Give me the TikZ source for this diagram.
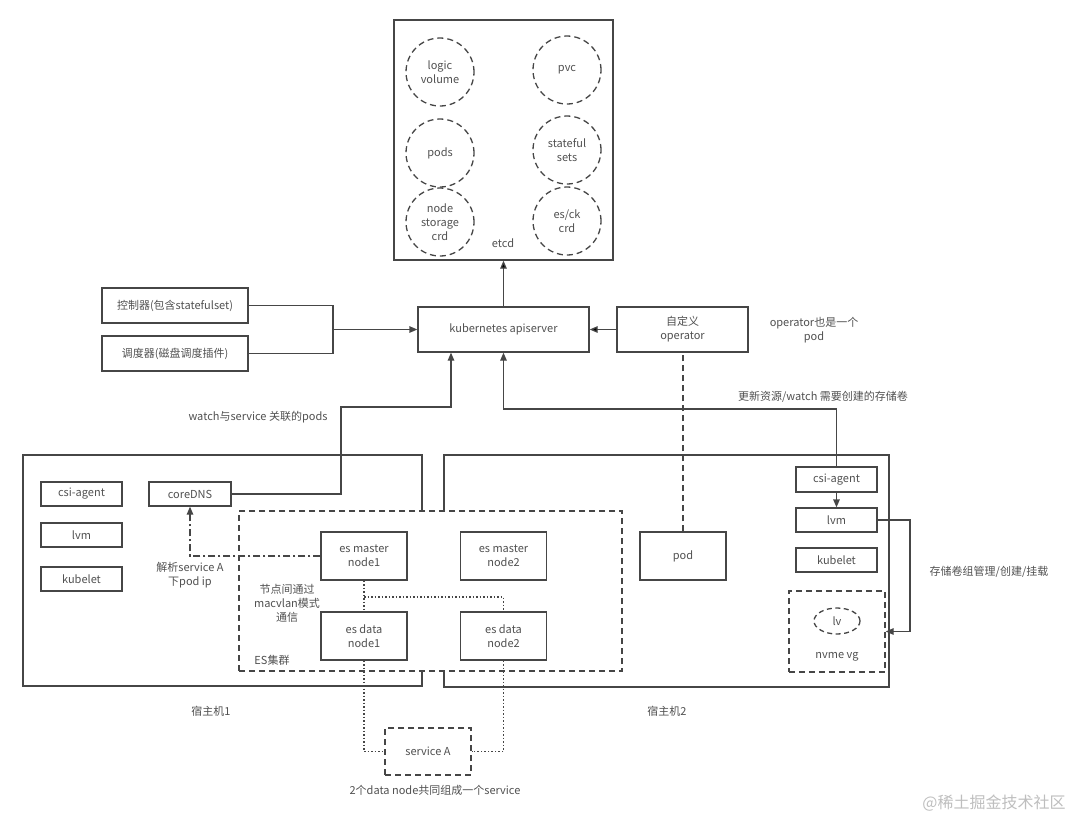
\documentclass[tikz,border=0pt]{standalone}
\usepackage{fontspec}
\setmainfont{Noto Sans CJK SC}
\usetikzlibrary{shapes.geometric}
\usetikzlibrary{positioning}
\usetikzlibrary{arrows.meta}

\begin{document}
\begin{tikzpicture}[x=1pt,y=-1pt,>={Triangle[length=8pt,width=6.5pt]},
	every node/.style={font=\fontsize{11}{14}\selectfont,text=txt,align=center},
	main box/.style={rectangle,draw=ln,line width=1.3pt,inner sep=0pt},
	dash box/.style={main box,dash pattern=on 6pt off 4pt},
	dash circle/.style={circle,draw=ln,line width=1.3pt,dash pattern=on 6pt off 4pt,
		minimum size=68pt,inner sep=0pt},
	link/.style={draw=ln,line width=1.3pt}]
	
	\definecolor{ln}{RGB}{70,70,70}
	\definecolor{txt}{RGB}{80,80,80}
	\definecolor{wmark}{RGB}{190,190,190}
	
	\useasboundingbox (0,0) rectangle (1080,820);
	
	% etcd
	\node[main box, minimum width=219pt, minimum height=240pt] (etcd) at (503.5,140) {};
	\node (etcdlabel) at (503,243) {etcd};
	\node[dash circle] (lvol) at (440,72) {logic\\volume};
	\node[dash circle] (pvc) at (567,70) {pvc};
	\node[dash circle] (pods) at (440,153) {pods};
	\node[dash circle] (sts) at (567,150) {stateful\\sets};
	\node[dash circle] (nsc) at (440,222) {node\\storage\\crd};
	\node[dash circle] (esck) at (567,221) {es/ck\\crd};
	
	% apiserver row
	\node[main box, minimum width=171pt, minimum height=45pt] (api) at (503.5,329.5) {kubernetes apiserver};
	\node[main box, minimum width=146pt, minimum height=35pt] (ctrl) at (175,305.5) {控制器(包含statefulset)};
	\node[main box, minimum width=146pt, minimum height=35pt] (sched) at (175,353.5) {调度器(磁盘调度插件)};
	\node[main box, minimum width=131pt, minimum height=45pt] (op) at (682.5,329.5) {自定义\\operator};
	\node (opnote) at (814,330) {operator也是一个\\pod};
	
	% hosts
	\node[main box, minimum width=399pt, minimum height=231pt] (host1) at (222.5,570.5) {};
	\node[main box, minimum width=445pt, minimum height=232pt] (host2) at (666.5,571) {};
	\node (h1label) at (211,711) {宿主机1};
	\node (h2label) at (667,711) {宿主机2};
	
	% host1
	\node[main box, minimum width=81pt, minimum height=24pt] (csi1) at (81.5,494) {csi-agent};
	\node[main box, minimum width=81pt, minimum height=24pt] (lvm1) at (81.5,535) {lvm};
	\node[main box, minimum width=81pt, minimum height=24pt] (kub1) at (81.5,579) {kubelet};
	\node[main box, minimum width=82pt, minimum height=24pt] (dns) at (190,494) {coreDNS};
	
	% ES cluster
	\node[dash box, fill=white, minimum width=383pt, minimum height=160pt] (es) at (430.5,591) {};
	\node (eslabel) at (272,660) {ES集群};
	\node[main box, minimum width=86pt, minimum height=48pt] (m1) at (364,556) {es master\\node1};
	\node[main box, minimum width=86pt, minimum height=48pt] (m2) at (503.5,556) {es master\\node2};
	\node[main box, minimum width=86pt, minimum height=48pt] (d1) at (364,636) {es data\\node1};
	\node[main box, minimum width=86pt, minimum height=48pt] (d2) at (503.5,636) {es data\\node2};
	\node (macvlan) at (287,603) {节点间通过\\macvlan模式\\通信};
	\node (dnsnote) at (190,575) {解析service A\\下pod ip};
	
	% host2
	\node[main box, minimum width=86pt, minimum height=48pt] (pod) at (683,556) {pod};
	\node[main box, minimum width=81pt, minimum height=25pt] (csi2) at (836.5,479.5) {csi-agent};
	\node[main box, minimum width=81pt, minimum height=24pt] (lvm2) at (836.5,520) {lvm};
	\node[main box, minimum width=81pt, minimum height=24pt] (kub2) at (836.5,560) {kubelet};
	\node[dash box, minimum width=96pt, minimum height=81pt] (vg) at (837,631.5) {};
	\node[ellipse, draw=ln, line width=1.3pt, dash pattern=on 5pt off 3.5pt,
		minimum width=46pt, minimum height=26pt, inner sep=0pt] (lv) at (837,621) {lv};
	\node (vglabel) at (837,657) {nvme vg};
	\node (vgnote) at (989,572) {存储卷组管理/创建/挂载};
	
	% service
	\node[dash box, minimum width=86pt, minimum height=47pt] (svc) at (428,751.5) {service A};
	\node (svcnote) at (435,790) {2个data node共同组成一个service};
	
	% labels on links
	\node (watchnote) at (258,417) {watch与service 关联的pods};
	\node (updnote) at (823,397) {更新资源/watch 需要创建的存储卷};
	\node[font=\fontsize{16}{18}\selectfont, text=wmark] (wm) at (994,803) {@稀土掘金技术社区};
	
	% bend points
	\coordinate (merge) at (333,329.5);
	\coordinate (dnsbend) at (341,407);
	\coordinate (upbend) at (836.5,409);
	\coordinate (lvmbend) at (910,520);
	\coordinate (mesh) at (364,597);
	
	% links
	\path[link]
	(api) edge[->] (etcd)
	(op) edge[->] (api);
	\draw[link] (ctrl.east) -| (merge);
	\draw[link] (sched.east) -| (merge);
	\draw[link,->] (merge) -- (api.west);
	\draw[link,->] (dns.east) -| (dnsbend) -| ([xshift=-52.5pt]api.south);
	\draw[link,->] (csi2.north) |- (upbend) -| (api.south);
	\draw[link,dash pattern=on 6pt off 4pt] (pod.north) -- (pod.north |- op.south);
	\draw[link,->] (csi2) -- (lvm2);
	\draw[link,->] (lvm2.east) -- (lvmbend) |- (vg.east);
	\draw[link,->,dash pattern=on 7pt off 3pt on 2pt off 3pt] (m1.west) -| (dns.south);
	\draw[link,dash pattern=on 1.5pt off 2pt] (m1) -- (d1);
	\draw[link,dash pattern=on 1.5pt off 2pt] (mesh) -| (d2.north);
	\draw[link,dash pattern=on 1.5pt off 2pt] (d1.south) |- (svc.west);
	\draw[link,dash pattern=on 1.5pt off 2pt] (d2.south) |- (svc.east);
\end{tikzpicture}
\end{document}
